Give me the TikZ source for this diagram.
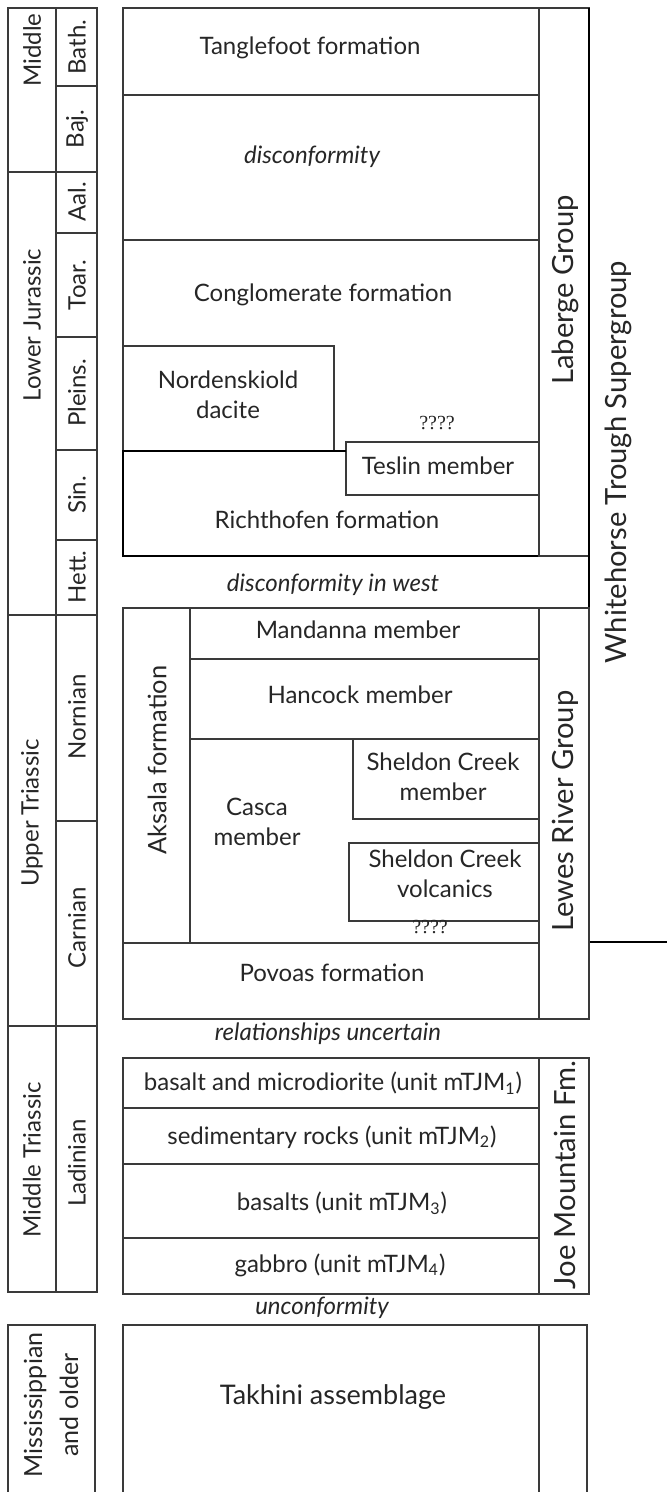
\documentclass[tikz,border=0pt]{standalone}
\usepackage{fontspec}
\setmainfont{Lato}
\newfontfamily\qfont{Liberation Serif}
\usetikzlibrary{positioning}
\definecolor{rulegray}{HTML}{3A3A3A}

\begin{document}
\begin{tikzpicture}[
  x=0.5pt, y=-0.5pt,
  frame/.style={draw=rulegray, line width=0.6pt},
  heavy/.style={draw=black, line width=1pt},
  lbl/.style={inner sep=0pt, align=center, text=black!85, font=\fontsize{12}{15}\selectfont},
  gap/.style={inner sep=0pt, text=black!85, font=\fontsize{12}{15}\selectfont\itshape},
  vlbl/.style={lbl, rotate=90},
  grp/.style={inner sep=0pt, rotate=90, text=black!85, font=\fontsize{14.6}{17}\selectfont},
  qq/.style={inner sep=0pt, text=black!85, font=\fontsize{10}{11}\qfont}
]
\useasboundingbox (0,0) rectangle (666,1492);
\draw[frame] (8,8) rectangle (56,172);
\draw[frame] (8,172) rectangle (56,615);
\draw[frame] (8,615) rectangle (56,1026);
\draw[frame] (8,1026) rectangle (56,1292);
\draw[frame] (56,8) rectangle (97,86);
\draw[frame] (56,86) rectangle (97,172);
\draw[frame] (56,172) rectangle (97,233);
\draw[frame] (56,233) rectangle (97,337);
\draw[frame] (56,337) rectangle (97,450);
\draw[frame] (56,450) rectangle (97,540);
\draw[frame] (56,540) rectangle (97,615);
\draw[frame] (56,615) rectangle (97,821);
\draw[frame] (56,821) rectangle (97,1026);
\draw[frame] (56,1026) rectangle (97,1292);
\draw[frame] (8,1325) rectangle (95,1500);
\node[vlbl] (mid) at (32,50) {Middle};
\node[vlbl] (ljur) at (32,325) {Lower Jurassic};
\node[vlbl] (utri) at (32,813) {Upper Triassic};
\node[vlbl] (mtri) at (32,1160) {Middle Triassic};
\node[vlbl] (bath) at (77,47) {Bath.};
\node[vlbl] (baj) at (77,129) {Baj.};
\node[vlbl] (aal) at (77,202) {Aal.};
\node[vlbl] (toar) at (77,285) {Toar.};
\node[vlbl] (plei) at (77,393) {Pleins.};
\node[vlbl] (sin) at (77,495) {Sin.};
\node[vlbl] (hett) at (77,577) {Hett.};
\node[vlbl] (nori) at (77,717) {Nornian};
\node[vlbl] (carn) at (77,928) {Carnian};
\node[vlbl] (ladi) at (77,1163) {Ladinian};
\node[vlbl, font=\fontsize{12.5}{18}\selectfont] (miss) at (51,1405) {Mississippian\\and older};

\draw[frame] (123,8) rectangle (539,95);
\draw[frame] (123,95) rectangle (539,240);
\draw[frame] (123,240) rectangle (539,556);
\draw[frame] (123,346) rectangle (334,451);
\draw[frame] (346,442) rectangle (539,495);
\draw[heavy] (346,451) -| (123,556) -| (539,495);
\draw[frame] (539,8) rectangle (589,556);
\draw[heavy] (589,8) -- (589,942) -- (670,942);
\node[lbl] (tang) at (310,48) {Tanglefoot formation};
\node[gap] (disc) at (312,157) {disconformity};
\node[lbl] (cong) at (323,295) {Conglomerate formation};
\node[lbl] (nord) at (228,395) {Nordenskiold\\dacite};
\node[qq] (qtes) at (437,423) {????};
\node[lbl] (tesl) at (438,466) {Teslin member};
\node[lbl] (rich) at (327,520) {Richthofen formation};
\node[grp] (labg) at (565,290) {Laberge Group};
\node[grp] (whit) at (618,462) {Whitehorse Trough Supergroup};
\node[gap] (dwes) at (333,585) {disconformity in west};

\draw[frame] (123,608) rectangle (539,1019);
\draw[frame] (539,608) rectangle (589,1019);
\draw[frame] (190,608) -- (190,943);
\draw[frame] (190,659) -- (539,659);
\draw[frame] (190,739) -- (539,739);
\draw[frame] (123,943) -- (539,943);
\draw[frame] (353,739) rectangle (539,819);
\draw[frame] (349,843) rectangle (539,921);
\node[lbl] (mand) at (358,630) {Mandanna member};
\node[lbl] (hanc) at (360,695) {Hancock member};
\node[lbl] (scmb) at (443,777) {Sheldon Creek\\member};
\node[lbl] (casc) at (257,822) {Casca\\member};
\node[lbl] (scvo) at (445,874) {Sheldon Creek\\volcanics};
\node[qq] (qscv) at (430,927) {????};
\node[lbl] (povo) at (332,973) {Povoas formation};
\node[vlbl, font=\fontsize{12.7}{15}\selectfont] (aksa) at (157,760) {Aksala formation};
\node[grp] (lewg) at (565,811) {Lewes River Group};
\node[gap] (runc) at (328,1034) {relationships uncertain};

\draw[frame] (123,1058) rectangle (539,1294);
\draw[frame] (539,1058) rectangle (589,1294);
\draw[frame] (123,1108) -- (539,1108);
\draw[frame] (123,1164) -- (539,1164);
\draw[frame] (123,1238) -- (539,1238);
\node[lbl] (bas1) at (333,1083) {basalt and microdiorite (unit mTJM\textsubscript{1})};
\node[lbl] (sedr) at (332,1137) {sedimentary rocks (unit mTJM\textsubscript{2})};
\node[lbl] (bas3) at (342,1203) {basalts (unit mTJM\textsubscript{3})};
\node[lbl] (gabb) at (340,1265) {gabbro (unit mTJM\textsubscript{4})};
\node[grp] (joem) at (565,1175) {Joe Mountain Fm.};
\node[gap] (unco) at (322,1308) {unconformity};

\draw[frame] (123,1325) rectangle (539,1500);
\draw[frame] (539,1325) rectangle (587,1500);
\node[lbl, font=\fontsize{13.5}{16}\selectfont] (takh) at (333,1397) {Takhini assemblage};
\end{tikzpicture}
\end{document}
